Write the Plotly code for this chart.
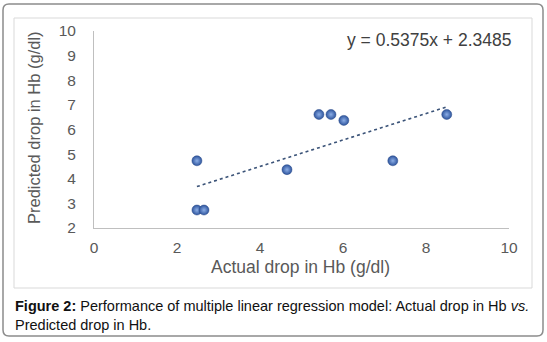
import plotly.graph_objects as go

W, H = 547, 342

# Data
actual_drop = [2.48, 2.48, 2.65, 4.65, 5.42, 5.71, 6.02, 7.20, 8.50]
predicted_drop = [4.73, 2.73, 2.73, 4.37, 6.61, 6.61, 6.37, 4.73, 6.61]
trend_slope = 0.5375
trend_intercept = 2.3485
x_ticks = [0, 2, 4, 6, 8, 10]
y_ticks = [2, 3, 4, 5, 6, 7, 8, 9, 10]

FONT = "Liberation Sans, Arial, sans-serif"
GRAY = "#595959"


def px(x):
    return x / W


def py(y):
    return 1 - y / H


x_min, x_max = min(actual_drop), max(actual_drop)
trend_x = [x_min, x_max]
trend_y = [trend_slope * v + trend_intercept for v in trend_x]

fig = go.Figure()
fig.add_trace(go.Scatter(
    x=trend_x, y=trend_y, mode="lines",
    line=dict(color="#3B5378", width=1.6, dash="dot"),
    hoverinfo="skip", showlegend=False,
))
fig.add_trace(go.Scatter(
    x=actual_drop, y=predicted_drop, mode="markers",
    marker=dict(size=10, color="#2E559E",
                gradient=dict(type="radial", color="#8CAEE6"),
                line=dict(width=0.5, color="#2A4A88")),
    showlegend=False,
))


def rounded_rect(x0, y0, x1, y1, r):
    rx, ry = r / W, r / H
    X0, X1 = px(x0), px(x1)
    Y0, Y1 = py(y0), py(y1)  # Y0 top, Y1 bottom (paper)
    return (f"M {X0+rx},{Y0} L {X1-rx},{Y0} Q {X1},{Y0} {X1},{Y0-ry} "
            f"L {X1},{Y1+ry} Q {X1},{Y1} {X1-rx},{Y1} L {X0+rx},{Y1} "
            f"Q {X0},{Y1} {X0},{Y1+ry} L {X0},{Y0-ry} Q {X0},{Y0} {X0+rx},{Y0} Z")


shapes = [
    dict(type="path", xref="paper", yref="paper",
         path=rounded_rect(3, 4, 543, 336, 6),
         line=dict(color="#8C8C8C", width=1.5), layer="below"),
    dict(type="rect", xref="paper", yref="paper",
         x0=px(14), x1=px(532), y0=py(288), y1=py(18),
         line=dict(color="#D9D9D9", width=1), layer="below"),
]

annotations = [
    dict(text=f"y = {trend_slope}x + {trend_intercept}", xref="paper", yref="paper",
         x=px(513), y=py(40), xanchor="right", yanchor="middle", showarrow=False,
         font=dict(family=FONT, size=17.5, color="#404040")),
    dict(text="Actual drop in Hb (g/dl)", xref="paper", yref="paper",
         x=px(300), y=py(267), xanchor="center", yanchor="middle", showarrow=False,
         font=dict(family=FONT, size=17.5, color=GRAY)),
    dict(text="Predicted drop in Hb (g/dl)", xref="paper", yref="paper",
         x=px(34), y=py(128), xanchor="center", yanchor="middle", showarrow=False,
         textangle=-90, font=dict(family=FONT, size=16.5, color=GRAY)),
    dict(text="<b>Figure 2:</b> Performance of multiple linear regression model: Actual drop in Hb <i>vs.</i><br>Predicted drop in Hb.",
         xref="paper", yref="paper", x=px(13), y=py(296), xanchor="left", yanchor="top",
         align="left", showarrow=False,
         font=dict(family=FONT, size=14.5, color="#111111")),
]

fig.update_layout(
    template="none",
    width=W, height=H,
    margin=dict(l=0, r=0, t=0, b=0, pad=0),
    paper_bgcolor="white", plot_bgcolor="white",
    shapes=shapes, annotations=annotations,
    xaxis=dict(domain=[px(94), px(509)], range=[0, 10], tickvals=x_ticks,
               automargin=False,
               showgrid=False, zeroline=False, showline=True, linecolor="#BFBFBF",
               linewidth=1, ticks="", ticklabelstandoff=5,
               tickfont=dict(family=FONT, size=15.5, color=GRAY)),
    yaxis=dict(domain=[py(228), py(31)], range=[2, 10], tickvals=y_ticks,
               automargin=False,
               showgrid=False, zeroline=False, showline=True, linecolor="#BFBFBF",
               linewidth=1, ticks="", ticklabelstandoff=14,
               tickfont=dict(family=FONT, size=15.5, color=GRAY)),
)

fig.write_html(
    "out.html",
    config={"displayModeBar": False},
    post_script="document.body.style.margin='0';document.body.style.overflow='hidden';",
)
